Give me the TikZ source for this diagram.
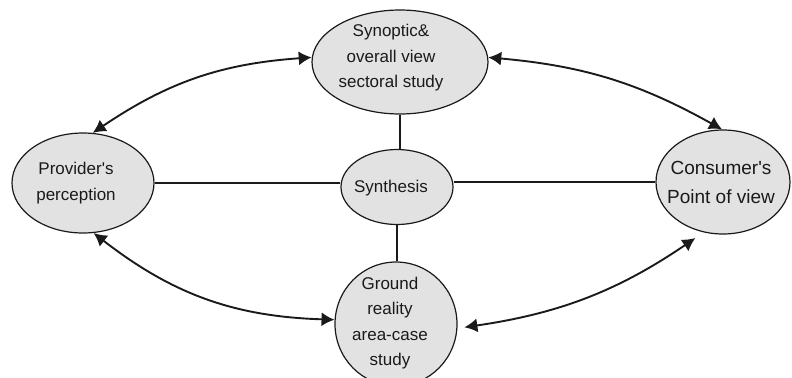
\documentclass[tikz,border=0pt]{standalone}
\usepackage{fontspec}
\setmainfont{Liberation Sans}[Ligatures=TeXOff]
\usetikzlibrary{shapes.geometric,arrows.meta,calc}
\definecolor{bubblefill}{HTML}{E2E2E2}
\definecolor{inkline}{HTML}{1A1A1A}
\tikzset{
  bubble/.style={ellipse, draw=inkline, fill=bubblefill, line width=1.2bp, inner sep=0pt},
  caption/.style={align=center, inner sep=0pt, text=inkline,
                  font=\fontsize{17bp}{25.5bp}\selectfont},
  bigcaption/.style={caption, font=\fontsize{19bp}{29bp}\selectfont},
  link/.style={draw=inkline, line width=1.5bp},
  twoway/.style={draw=inkline, line width=1.9bp,
                 {Latex[length=13bp,width=14bp]}-{Latex[length=13bp,width=14bp]}}
}
\begin{document}
\begin{tikzpicture}[x=1bp,y=-1bp]
  \useasboundingbox (0,0) rectangle (792,377);

  % ellipses
  \node[bubble, minimum width=176bp, minimum height=104bp] (top)   at (400,62)  {};
  \node[bubble, minimum width=142bp, minimum height=100bp] (prov)  at (83,183)  {};
  \node[bubble, minimum width=134bp, minimum height=104bp] (cons)  at (723,182) {};
  \node[bubble, minimum width=112bp, minimum height=75bp]  (synth) at (397,187) {};
  \node[bubble, minimum width=122bp, minimum height=124bp] (ground) at (396,324) {};

  % captions
  \node[caption] (toptext) at (391,58) {Synoptic\&\\overall view\\sectoral study};
  \node[caption] (provtext) at (76,183) {Provider's\\perception};
  \node[bigcaption] (constext) at (721,182) {Consumer's\\Point of view};
  \node[caption] (synthtext) at (391,188) {Synthesis};
  \node[caption] (groundtext) at (390,323) {Ground\\reality\\area-case\\study};

  % straight links to the synthesis
  \draw[link] (prov.east) -- (prov.east -| synth.west);
  \draw[link] (cons.west -| synth.east) -- (cons.west);
  \draw[link] (top.south) -- (top.south |- synth.north);
  \draw[link] (synth.south) -- (synth.south |- ground.north);

  % curved two-way arrows
  \draw[twoway] (top.177) to[bend right=15] (prov.79);
  \draw[twoway] (top.3) to[bend left=12] (cons.91);
  \draw[twoway] (prov.282) to[bend right=18] (ground.176);
  \draw[twoway, shorten <=7bp, shorten >=10bp] (ground.-4) to[bend right=13] (cons.249);
\end{tikzpicture}
\end{document}
